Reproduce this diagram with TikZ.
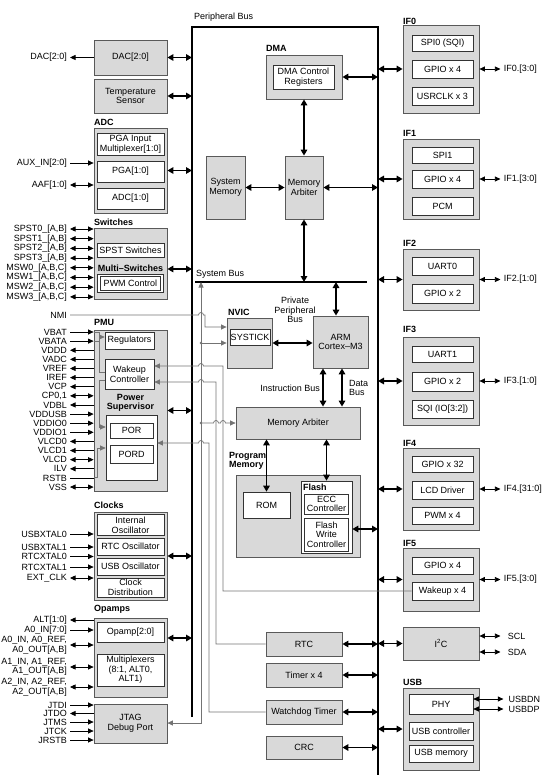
\documentclass[tikz,border=0pt]{standalone}
\usepackage{fontspec}
\setmainfont{Liberation Sans}
\usetikzlibrary{arrows.meta}
\newcommand{\dfont}{\fontsize{9}{9.6}\selectfont}

\begin{document}
\begin{tikzpicture}[x=1pt,y=-1pt,
  sz/.style 2 args={minimum width=#1, minimum height=#2},
  modbox/.style={draw=black!65, fill=black!15, line width=0.8pt, inner sep=0.8pt, align=center, font=\dfont},
  subbox/.style={draw=black!80, fill=white, line width=0.7pt, inner sep=0.8pt, align=center, font=\dfont},
  grp/.style={font=\dfont\bfseries, anchor=west, inner sep=0pt, align=left},
  lbl/.style={font=\dfont, inner sep=0pt},
  pinlbl/.style={font=\dfont, anchor=east, inner sep=0pt, align=right},
  pin/.style={line width=0.7pt, >={Triangle[length=5.5pt,width=5pt]}},
  bus/.style={line width=1.8pt, {Triangle[length=6pt,width=6.5pt]}-{Triangle[length=6pt,width=6.5pt]}},
  sig/.style={draw=black!55, line width=0.7pt, >={Triangle[length=5.5pt,width=5pt]}},
  busline/.style={line width=2.4pt}]
\useasboundingbox (0,0) rectangle (554,775);

% left column
\node[modbox, sz={73}{35}] (dac) at (130.5,57.5) {DAC[2:0]};
\node[modbox, sz={73}{34}] (temp) at (130.5,96) {Temperature\\Sensor};
\node[grp] (adclbl) at (94,122) {ADC};
\node[modbox, sz={73}{85}] (adc) at (130.5,170.5) {};
\node[subbox, sz={67}{22}] (pgamux) at (130.5,144) {PGA Input\\Multiplexer[1:0]};
\node[subbox, sz={67}{21}] (pga) at (130.5,171.5) {PGA[1:0]};
\node[subbox, sz={67}{21}] (adcc) at (130.5,198.5) {ADC[1:0]};
\node[grp] (swlbl) at (94,222) {Switches};
\node[modbox, sz={73}{71}] (sw) at (130.5,263.5) {};
\node[subbox, sz={67}{14}] (spst) at (130.5,250) {SPST Switches};
\node[lbl, font=\dfont\bfseries] (msw) at (130.5,268.5) {Multi--Switches};
\node[subbox, double=white, double distance=1.8pt, sz={63}{16}] (pwm) at (130.5,283.5) {PWM Control};
\node[pinlbl] (nmi) at (67,315) {NMI};
\node[grp] (pmulbl) at (94,322) {PMU};
\node[modbox, sz={73}{161}] (pmu) at (130.5,410.5) {};
\node[subbox, sz={49}{17}] (reg) at (129.5,340.5) {Regulators};
\node[subbox, sz={49}{30}] (wake) at (129.5,374) {Wakeup\\Controller};
\node[lbl, font=\dfont\bfseries, align=center] (pslbl) at (130.5,403) {Power\\Supervisor};
\node[subbox, sz={51}{65}] (psup) at (131.5,447.5) {};
\node[subbox, sz={43}{15}] (por) at (131.5,430.5) {POR};
\node[subbox, sz={43}{18}] (pord) at (131.5,454) {PORD};
\node[grp] (clklbl) at (94,505) {Clocks};
\node[modbox, sz={73}{88}] (clk) at (130.5,556) {};
\node[subbox, sz={67}{21}] (iosc) at (130.5,525) {Internal\\Oscillator};
\node[subbox, sz={67}{17}] (rtco) at (130.5,546.5) {RTC Oscillator};
\node[subbox, sz={67}{17}] (usbo) at (130.5,566.5) {USB Oscillator};
\node[subbox, sz={67}{19}] (cdist) at (130.5,587.5) {Clock\\Distribution};
\node[grp] (oplbl) at (94,609) {Opamps};
\node[modbox, sz={73}{79}] (op) at (130.5,657.5) {};
\node[subbox, sz={67}{20}] (opamp) at (130.5,632) {Opamp[2:0]};
\node[subbox, sz={67}{32}] (mux) at (130.5,670) {Multiplexers\\(8:1, ALT0,\\ALT1)};
\node[modbox, sz={73}{39}] (jtag) at (130.5,723.5) {JTAG\\Debug Port};

% buses
\node[lbl, anchor=west] (pblbl) at (194,17) {Peripheral Bus};
\coordinate (lbus) at (192,0);
\coordinate (rbus) at (378,0);
\coordinate (sysbus) at (0,282);
\draw[busline] (192,717) -- (192,27) -- (378,27) -- (378,775);
\node[lbl, anchor=west] (sblbl) at (196,274) {System Bus};
\draw[busline, line width=2pt] (195,282) -- (367,282);

% core
\node[grp] (dmalbl) at (266,48) {DMA};
\node[modbox, sz={76}{44}] (dma) at (304,77) {};
\node[subbox, sz={61}{24}] (dmareg) at (303.5,77) {DMA Control\\Registers};
\node[modbox, sz={38}{63}] (marb) at (304,187.5) {Memory\\Arbiter};
\node[modbox, sz={39}{63}] (sysmem) at (225.5,187.5) {System\\Memory};
\node[grp] (nviclbl) at (228,312) {NVIC};
\node[modbox, sz={45}{50}] (nvic) at (249.5,343) {};
\node[subbox, sz={40}{16}] (systick) at (250,337) {SYSTICK};
\node[lbl, align=center] (ppb) at (295,310) {Private\\Peripheral\\Bus};
\node[modbox, sz={55}{52}] (arm) at (340.5,342) {ARM\\Cortex--M3};
\node[lbl, anchor=east] (ibus) at (320,388) {Instruction Bus};
\node[lbl, anchor=west, align=left] (dbus) at (349,388) {Data\\Bus};
\node[modbox, sz={124}{32}] (marb2) at (298,423) {Memory Arbiter};
\node[grp] (pmlbl) at (229,461) {Program\\Memory};
\node[modbox, sz={124}{82}] (pmem) at (298,516) {};
\node[subbox, sz={47}{26}] (rom) at (266.5,505) {ROM};
\node[subbox, sz={51}{72}] (flash) at (326.5,517) {};
\node[grp] (flashlbl) at (303,487) {Flash};
\node[subbox, sz={44}{20}] (ecc) at (326.5,504) {ECC\\Controller};
\node[subbox, sz={44}{33}] (fwc) at (326.5,534.5) {Flash\\Write\\Controller};
\node[modbox, sz={76}{24}] (rtc) at (304,644) {RTC};
\node[modbox, sz={76}{24}] (tmr) at (304,675) {Timer x 4};
\node[modbox, sz={76}{24}] (wdt) at (304,712) {Watchdog Timer};
\node[modbox, sz={76}{23}] (crc) at (304,747.5) {CRC};

% right column
\node[grp] (if0lbl) at (403,21) {IF0};
\node[modbox, sz={76}{88}] (if0) at (441,69) {};
\node[subbox, sz={61}{16}] (spi0) at (442.5,43) {SPI0 (SQI)};
\node[subbox, sz={61}{18}] (gpio0) at (442.5,69) {GPIO x 4};
\node[subbox, sz={61}{18}] (usrclk) at (442.5,96) {USRCLK x 3};
\node[grp] (if1lbl) at (403,133) {IF1};
\node[modbox, sz={76}{80}] (if1) at (441,179) {};
\node[subbox, sz={61}{16}] (spi1) at (442.5,155) {SPI1};
\node[subbox, sz={61}{18}] (gpio1) at (442.5,179) {GPIO x 4};
\node[subbox, sz={61}{18}] (pcm) at (442.5,206) {PCM};
\node[grp] (if2lbl) at (403,243) {IF2};
\node[modbox, sz={76}{61}] (if2) at (441,279.5) {};
\node[subbox, sz={61}{18}] (uart0) at (442.5,266) {UART0};
\node[subbox, sz={61}{19}] (gpio2) at (442.5,293.5) {GPIO x 2};
\node[grp] (if3lbl) at (403,329) {IF3};
\node[modbox, sz={76}{88}] (if3) at (441,381) {};
\node[subbox, sz={61}{16}] (uart1) at (442.5,354) {UART1};
\node[subbox, sz={61}{19}] (gpio3) at (442.5,381.5) {GPIO x 2};
\node[subbox, sz={61}{18}] (sqi) at (442.5,409) {SQI (IO[3:2])};
\node[grp] (if4lbl) at (403,443) {IF4};
\node[modbox, sz={76}{82}] (if4) at (441,489) {};
\node[subbox, sz={61}{16}] (gpio4) at (442.5,464) {GPIO x 32};
\node[subbox, sz={61}{18}] (lcd) at (442.5,490) {LCD Driver};
\node[subbox, sz={61}{17}] (pwm4) at (442.5,515.5) {PWM x 4};
\node[grp] (if5lbl) at (403,543) {IF5};
\node[modbox, sz={76}{63}] (if5) at (441,579.5) {};
\node[subbox, sz={61}{17}] (gpio5) at (442.5,565.5) {GPIO x 4};
\node[subbox, sz={61}{18}] (wkup) at (442.5,591) {Wakeup x 4};
\node[modbox, sz={76}{33}] (i2c) at (441,643.5) {I\textsuperscript{2}C};
\node[grp] (usblbl) at (403,682) {USB};
\node[modbox, sz={76}{82}] (usb) at (441,729) {};
\node[subbox, sz={64}{20}] (phy) at (441,704) {PHY};
\node[subbox, sz={64}{18}] (usbc) at (441,731) {USB controller};
\node[subbox, sz={64}{17}] (usbm) at (441,753.5) {USB memory};

% bus connections
\foreach \n in {dac,temp,adc,pmu,clk} \draw[bus] (\n.east) -- (\n.east -| lbus);
\draw[bus] (sw.east |- 0,269) -- (lbus |- 0,269);
\draw[bus] (op.east |- 0,638) -- (lbus |- 0,638);
\foreach \n in {if0,if1,if2,if3,if4,if5,i2c,usb} \draw[bus] (\n.west -| rbus) -- (\n.west);
\foreach \n in {dma,marb,rtc,tmr,wdt,crc} \draw[bus] (\n.east) -- (\n.east -| rbus);
\draw[bus] (flash.east |- 0,529) -- (rbus |- 0,529);
\draw[bus] (dma.south) -- (marb.north);
\draw[bus] (sysmem.east) -- (marb.west);
\draw[bus] (marb.south) -- (marb.south |- sysbus);
\draw[bus] (nvic.east) -- (arm.west |- nvic.east);
\draw[bus] (arm.north -| 336,0) -- (sysbus -| 336,0);
\draw[bus] (arm.south -| 323,0) -- (marb2.north -| 323,0);
\draw[bus] (arm.south -| 342,0) -- (marb2.north -| 342,0);
\draw[bus] (marb2.south -| rom.north) -- (rom.north);
\draw[bus] (marb2.south -| flash.north) -- (flash.north);

% pins, left
\node[pinlbl] (dacp) at (67,57.5) {DAC[2:0]};
\draw[pin,<-] ([xshift=3pt]dacp.east) -- (dac.west);
\foreach \t/\y/\d [count=\i] in {AUX\_IN[2:0]/163/->, AAF[1:0]/185/<->}{
  \node[pinlbl] (adcp\i) at (67,\y) {\t};
  \draw[pin,\d] ([xshift=3pt]adcp\i.east) -- (adc.west |- adcp\i);
}
\foreach \t [count=\i from 0] in {SPST0\_[A{,}B],SPST1\_[A{,}B],SPST2\_[A{,}B],SPST3\_[A{,}B],MSW0\_[A{,}B{,}C],MSW1\_[A{,}B{,}C],MSW2\_[A{,}B{,}C],MSW3\_[A{,}B{,}C]}{
  \node[pinlbl] (swp\i) at (67,229+9.7*\i) {\t};
  \draw[pin,<->] ([xshift=3pt]swp\i.east) -- (sw.west |- swp\i);
}
\foreach \t/\d [count=\i from 0] in {VBAT/->, VBATA/->, VDDD/<-, VADC/<-, VREF/<-, IREF/<-, VCP/<-, CP0{,}1/<->, VDBL/<-, VDDUSB/->, VDDIO0/->, VDDIO1/->, VLCD0/<-, VLCD1/<-, VLCD/<->, ILV/<-, RSTB/-, VSS/<->}{
  \node[pinlbl] (pmup\i) at (67,332+9.12*\i) {\t};
  \draw[pin,\d] ([xshift=3pt]pmup\i.east) -- (pmu.west |- pmup\i);
}
\foreach \t/\y/\d [count=\i] in {USBXTAL0/534/->, USBXTAL1/547/->, RTCXTAL0/556.5/->, RTCXTAL1/567/->, EXT\_CLK/578/<->}{
  \node[pinlbl] (clkp\i) at (67,\y) {\t};
  \draw[pin,\d] ([xshift=3pt]clkp\i.east) -- (clk.west |- clkp\i);
}
\foreach \t/\y/\d [count=\i] in {ALT[1:0]/620/<-, A0\_IN[7:0]/630/->, {A0\_IN{,} A0\_REF{,}\\A0\_OUT[A{,}B]}/645/<->, {A1\_IN{,} A1\_REF{,}\\A1\_OUT[A{,}B]}/667/<->, {A2\_IN{,} A2\_REF{,}\\A2\_OUT[A{,}B]}/687/<->}{
  \node[pinlbl] (opp\i) at (67,\y) {\t};
  \draw[pin,\d] ([xshift=3pt]opp\i.east |- 0,\y) -- (op.west |- 0,\y);
}
\foreach \t/\y/\d [count=\i] in {JTDI/705/->, JTDO/713.5/<-, JTMS/722/->, JTCK/731/->, JRSTB/740/->}{
  \node[pinlbl] (jtp\i) at (67,\y) {\t};
  \draw[pin,\d] ([xshift=3pt]jtp\i.east) -- (jtag.west |- jtp\i);
}

% pins, right
\foreach \n/\t in {if0/IF0.[3:0], if1/IF1.[3:0], if2/IF2.[1:0], if3/IF3.[1:0], if4/IF4.[31:0], if5/IF5.[3:0]}
  \draw[pin,<->] (\n.east) -- ++(21,0) node[lbl, anchor=west, xshift=3pt] (\n pin) {\t};
\draw[pin,<->] (i2c.east |- 0,636) -- ++(21,0) node[lbl, anchor=west, xshift=7pt] (scl) {SCL};
\draw[pin,<->] (i2c.east |- 0,652) -- ++(21,0) node[lbl, anchor=west, xshift=7pt] (sda) {SDA};
\draw[pin,<->] (phy.east |- 0,699) -- ++(30,0) node[lbl, anchor=west, xshift=5pt] (usbdn) {USBDN};
\draw[pin,<->] (phy.east |- 0,709) -- ++(30,0) node[lbl, anchor=west, xshift=5pt] (usbdp) {USBDP};

% control signals
\draw[sig] (pmu.west |- 0,332) -- (99,332) -- (99,372) -- (wake.west |- 0,372);
\draw[sig] (pmu.west |- 0,341) -- (99,341);
\draw[sig,->] (99,337) -- (reg.west |- 0,337);
\draw[sig,->] (wake.west |- 0,380) -- (99,380) -- (99,427) -- (psup.west |- 0,427);
\draw[sig,->] (pmu.west |- 0,477) -- (97,477) -- (97,448) -- (psup.west |- 0,448);
\draw[sig,->] ([xshift=3pt]nmi.east) -- (198.5,315) arc[start angle=180,end angle=360,radius=2.5] -- (205,315) -- (205,327) -- (nvic.west |- 0,327);
\draw[sig,<->] (jtag.east |- 0,723) -- (201,723) -- (sysbus -| 201,0);
\fill[black!55] (201,343) circle[radius=1.4] (201,423) circle[radius=1.4];
\draw[sig,->] (201,343) -- (nvic.west |- 0,343);
\draw[sig,->] (201,423) -- (213.5,423) arc[start angle=180,end angle=360,radius=2.5] -- (220.5,423) arc[start angle=180,end angle=360,radius=2.5] -- (marb2.west);
\draw[sig,->] (wkup.west) -- (223,591) -- (223,366) -- (203.5,366) arc[start angle=0,end angle=-180,radius=2.5] -- (wake.east |- 0,366);
\draw[sig,->] (rtc.west) -- (216,644) -- (216,382) -- (203.5,382) arc[start angle=0,end angle=-180,radius=2.5] -- (wake.east |- 0,382);
\draw[sig,->] (wdt.west) -- (209,712) -- (209,443) -- (203.5,443) arc[start angle=0,end angle=-180,radius=2.5] -- (psup.east |- 0,443);
\end{tikzpicture}
\end{document}
